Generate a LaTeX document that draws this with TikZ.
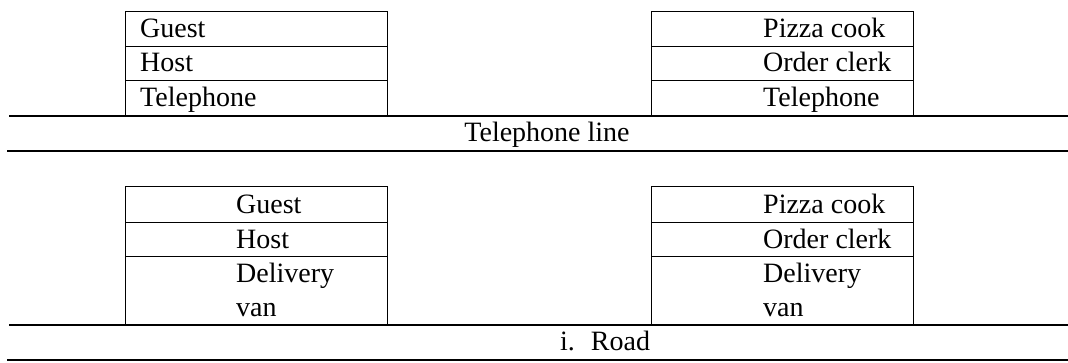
\documentclass[tikz,border=0pt]{standalone}
\usepackage{fontspec}
\setmainfont{Liberation Serif}
\begin{document}
\begin{tikzpicture}[x=1pt,y=-1pt,
  cell/.style={draw, line width=1.3pt, inner sep=0pt, anchor=north west,
               minimum width=262pt},
  txt/.style={anchor=base west, inner sep=0pt, font=\fontsize{28}{34}\selectfont},
  ctr/.style={anchor=base, inner sep=0pt, font=\fontsize{28}{34}\selectfont},
  rule/.style={line width=1.6pt},
  rulebottom/.style={line width=2pt}]
\useasboundingbox (0,0) rectangle (1068,362);

% --- telephone layer: caller side
\node[cell, minimum height=35pt] (g1) at (125,11) {};
\node[cell, minimum height=34pt] (h1) at (125,46) {};
\node[cell, minimum height=36pt] (p1) at (125,80) {};
\node[txt] (g1t) at (140,37) {Guest};
\node[txt] (h1t) at (140,71) {Host};
\node[txt] (p1t) at (140,106) {Telephone};

% --- telephone layer: pizzeria side
\node[cell, minimum height=35pt] (c1) at (651,11) {};
\node[cell, minimum height=34pt] (o1) at (651,46) {};
\node[cell, minimum height=36pt] (q1) at (651,80) {};
\node[txt] (c1t) at (763,37) {Pizza cook};
\node[txt] (o1t) at (763,71) {Order clerk};
\node[txt] (q1t) at (763,106) {Telephone};

% telephone line
\draw[rule] (9,116) -- (1068,116);
\draw[rulebottom] (7,151) -- (1068,151);
\node[ctr] (tl) at (547,141) {Telephone line};

% --- delivery layer: caller side
\node[cell, minimum height=36pt] (g2) at (125,186) {};
\node[cell, minimum height=34pt] (h2) at (125,222) {};
\node[cell, minimum height=69pt] (d2) at (125,256) {};
\node[txt] (g2t) at (236,213) {Guest};
\node[txt] (h2t) at (236,248) {Host};
\node[txt] (d2t) at (236,282) {Delivery};
\node[txt] (v2t) at (236,316) {van};

% --- delivery layer: pizzeria side
\node[cell, minimum height=36pt] (c2) at (651,186) {};
\node[cell, minimum height=34pt] (o2) at (651,222) {};
\node[cell, minimum height=69pt] (e2) at (651,256) {};
\node[txt] (c2t) at (763,213) {Pizza cook};
\node[txt] (o2t) at (763,248) {Order clerk};
\node[txt] (e2t) at (763,282) {Delivery};
\node[txt] (w2t) at (763,316) {van};

% road
\draw[rule] (9,325) -- (1068,325);
\draw[rulebottom] (7,360) -- (1068,360);
\node[txt] (rd) at (560,350) {i.\hspace*{16pt}Road};
\end{tikzpicture}
\end{document}
